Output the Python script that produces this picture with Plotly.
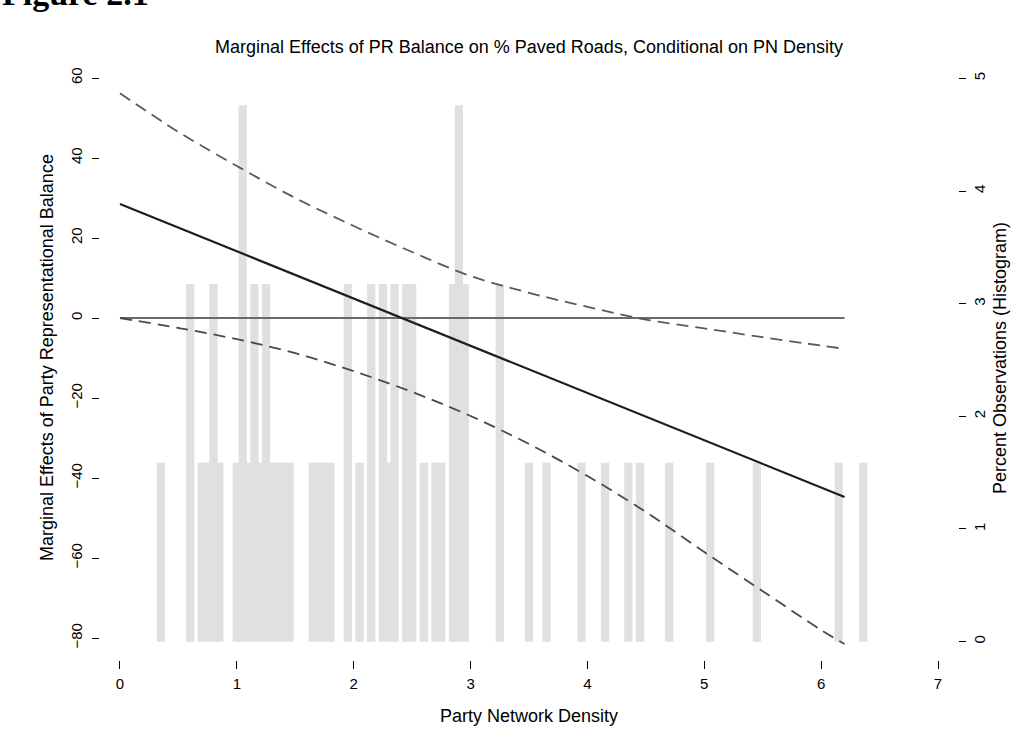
import plotly.graph_objects as go

# ---- data ----
x_grid = [0, 0.5, 1, 1.5, 2, 2.5, 3, 3.5, 4, 4.5, 5, 5.5, 6, 6.2]
effect = [28.5, 22.6, 16.7, 10.8, 4.9, -1.0, -6.9, -12.8, -18.7, -24.6, -30.6, -36.5, -42.4, -44.75]
upper = [56.2, 46.5, 38.0, 30.0, 23.0, 16.5, 10.5, 6.3, 2.8, -0.4, -2.6, -4.8, -6.9, -7.7]
lower = [0.0, -2.5, -5.3, -8.8, -13.3, -18.5, -24.5, -31.5, -39.5, -48.5, -58.5, -68.3, -78.0, -81.5]

zero_x = [0, 6.2]
zero_y = [0, 0]

hist_x = [0.35, 0.6, 0.7, 0.75, 0.8, 0.85,
          1.0, 1.05, 1.1, 1.15, 1.2, 1.25, 1.3, 1.35, 1.4, 1.45,
          1.65, 1.7, 1.75, 1.8,
          1.95, 2.05, 2.15, 2.25, 2.3, 2.35, 2.45, 2.5,
          2.6, 2.7, 2.75, 2.85, 2.9, 2.95, 3.25,
          3.5, 3.65, 3.95, 4.15, 4.35, 4.45, 4.7, 5.05, 5.45, 6.15, 6.36]
hist_count = [1, 2, 1, 1, 2, 1,
              1, 3, 1, 2, 1, 2, 1, 1, 1, 1,
              1, 1, 1, 1,
              2, 1, 2, 2, 1, 2, 2, 2,
              1, 1, 1, 2, 3, 2, 2,
              1, 1, 1, 1, 1, 1, 1, 1, 1, 1, 1]
n_obs = 63

x_ticks = [0, 1, 2, 3, 4, 5, 6, 7]
left_ticks = [-80, -60, -40, -20, 0, 20, 40, 60]
right_ticks = [0, 1, 2, 3, 4, 5]

hist_pct = [c / n_obs * 100 for c in hist_count]

FONT = "Liberation Sans, Arial, Helvetica, sans-serif"
TICK = 15
LAB = 18

fig = go.Figure()
fig.add_trace(go.Bar(x=hist_x, y=hist_pct, width=0.071,
                     marker=dict(color="#e0e0e0", line=dict(width=0)),
                     yaxis="y", showlegend=False, hoverinfo="skip"))
fig.add_trace(go.Scatter(x=zero_x, y=zero_y, mode="lines",
                         line=dict(color="#6a6a6a", width=2.2),
                         yaxis="y2", showlegend=False))
fig.add_trace(go.Scatter(x=x_grid, y=upper, mode="lines", line_shape="spline",
                         line=dict(color="#5a5a5a", width=1.8, dash="12px,7px"),
                         yaxis="y2", showlegend=False))
fig.add_trace(go.Scatter(x=x_grid, y=lower, mode="lines", line_shape="spline",
                         line=dict(color="#4a4a4a", width=1.8, dash="12px,7px"),
                         yaxis="y2", showlegend=False))
fig.add_trace(go.Scatter(x=x_grid, y=effect, mode="lines",
                         line=dict(color="#1e1e1e", width=2.2),
                         yaxis="y2", showlegend=False))

fig.update_layout(
    width=1029, height=755,
    margin=dict(l=100, r=71, t=56, b=95),
    paper_bgcolor="white", plot_bgcolor="white",
    font=dict(family=FONT, size=TICK, color="black"),
    barmode="overlay",
    title=dict(text="Marginal Effects of PR Balance on % Paved Roads, Conditional on PN Density",
               x=0.5, xref="paper", xanchor="center",
               y=1 - 47 / 755, yref="container", yanchor="middle",
               font=dict(family=FONT, size=LAB, color="black")),
    xaxis=dict(range=[-0.171, 7.171], tickvals=x_ticks, ticks="outside", ticklen=8,
               tickcolor="black", tickwidth=1, showline=False, showgrid=False,
               zeroline=False, ticklabelstandoff=2,
               tickfont=dict(family=FONT, size=TICK, color="black")),
    yaxis=dict(range=[-0.163, 5.199], tickvals=right_ticks, side="right",
               ticks="outside", ticklen=7, tickcolor="black", tickwidth=1,
               showline=False, showgrid=False, zeroline=False, tickangle=-90,
               ticklabelstandoff=1,
               tickfont=dict(family=FONT, size=TICK, color="black")),
    yaxis2=dict(range=[-85.5, 65.5], tickvals=left_ticks, side="left",
                overlaying="y", ticks="outside", ticklen=7, tickcolor="black",
                tickwidth=1, showline=False, showgrid=False, zeroline=False,
                tickangle=-90, ticklabelstandoff=4,
                tickfont=dict(family=FONT, size=TICK, color="black")),
    annotations=[
        dict(text="Party Network Density", xref="paper", yref="paper",
             x=0.5, y=-(716 - 660) / 604, xanchor="center", yanchor="middle",
             showarrow=False, font=dict(family=FONT, size=LAB)),
        dict(text="Marginal Effects of Party Representational Balance",
             xref="paper", yref="paper", x=-(100 - 47) / 858, y=0.5,
             xanchor="center", yanchor="middle", textangle=-90,
             showarrow=False, font=dict(family=FONT, size=LAB)),
        dict(text="Percent Observations (Histogram)",
             xref="paper", yref="paper", x=1 + (1000 - 958) / 858, y=0.5,
             xanchor="center", yanchor="middle", textangle=-90,
             showarrow=False, font=dict(family=FONT, size=LAB)),
        dict(text="<b>Figure 2.1</b>", xref="paper", yref="paper",
             x=-(100 - 0) / 858, y=1 + (56 - 14) / 604,
             xanchor="left", yanchor="bottom", showarrow=False,
             font=dict(family="Liberation Serif, Times New Roman, serif", size=34)),
    ],
)

fig.write_html("out.html")
